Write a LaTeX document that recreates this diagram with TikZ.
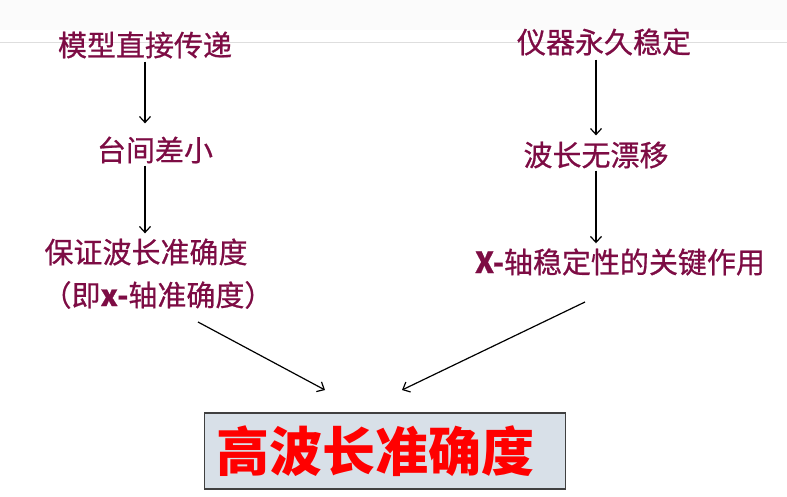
\documentclass[tikz,border=0pt]{standalone}
\usepackage{fontspec}
\usetikzlibrary{arrows.meta}
\newfontfamily\cjk[FakeBold=0.7]{Noto Sans CJK SC}
\newfontfamily\cjkbold{Noto Sans CJK SC}
\definecolor{wine}{RGB}{125,12,68}
\definecolor{boxfill}{RGB}{216,224,232}
\begin{document}
\begin{tikzpicture}[x=1pt, y=-1pt, >={Straight Barb[length=6pt, width=11pt]},
    every node/.style={font=\cjk\fontsize{29}{34}\selectfont, text=wine, inner sep=0pt},
    link/.style={->, line width=1.2pt},
    hibox/.style={draw=black!75, line width=1.4pt, fill=boxfill, minimum width=361pt, minimum height=76pt},
    hititle/.style={font=\cjkbold\bfseries\fontsize{53}{60}\selectfont, text=red}]
    \useasboundingbox (0,0) rectangle (787,497);
    \fill[black!1.5] (0,0) rectangle (787,30);
    \draw[black!13, line width=1pt] (0,43) -- (787,43);

    % left chain
    \node (l1) at (145,45) {模型直接传递};
    \node (l2) at (155,150) {台间差小};
    \node (l3) at (146,252) {保证波长准确度};
    \node (l4) at (158,295) {（即\textbf{x-}轴准确度）};

    % right chain
    \node (r1) at (604,42) {仪器永久稳定};
    \node (r2) at (596,155) {波长无漂移};
    \node (r3) at (620,262) {\textbf{X-}轴稳定性的关键作用};

    \node[hibox] (box) at (385,451) {};
    \node[hititle] (title) at (375,451) {高波长准确度};

    \coordinate (la) at (198,322);
    \coordinate (lb) at (325,390);
    \coordinate (ra) at (585,302);
    \coordinate (rb) at (402,390);

    \draw[link, shorten <=3pt, shorten >=13pt] (l1.south) -- (l1.south |- l2.north);
    \draw[link, shorten <=2pt, shorten >=5pt] (l2.south -| l1.south) -- (l1.south |- l3.north);
    \draw[link, shorten <=4pt, shorten >=6pt] (r1.south -| r2.north) -- (r2.north);
    \draw[link, shorten <=2pt, shorten >=5pt] (r2.south) -- (r2.south |- r3.north);
    \draw[link] (la) -- (lb);
    \draw[link] (ra) -- (rb);
\end{tikzpicture}
\end{document}
